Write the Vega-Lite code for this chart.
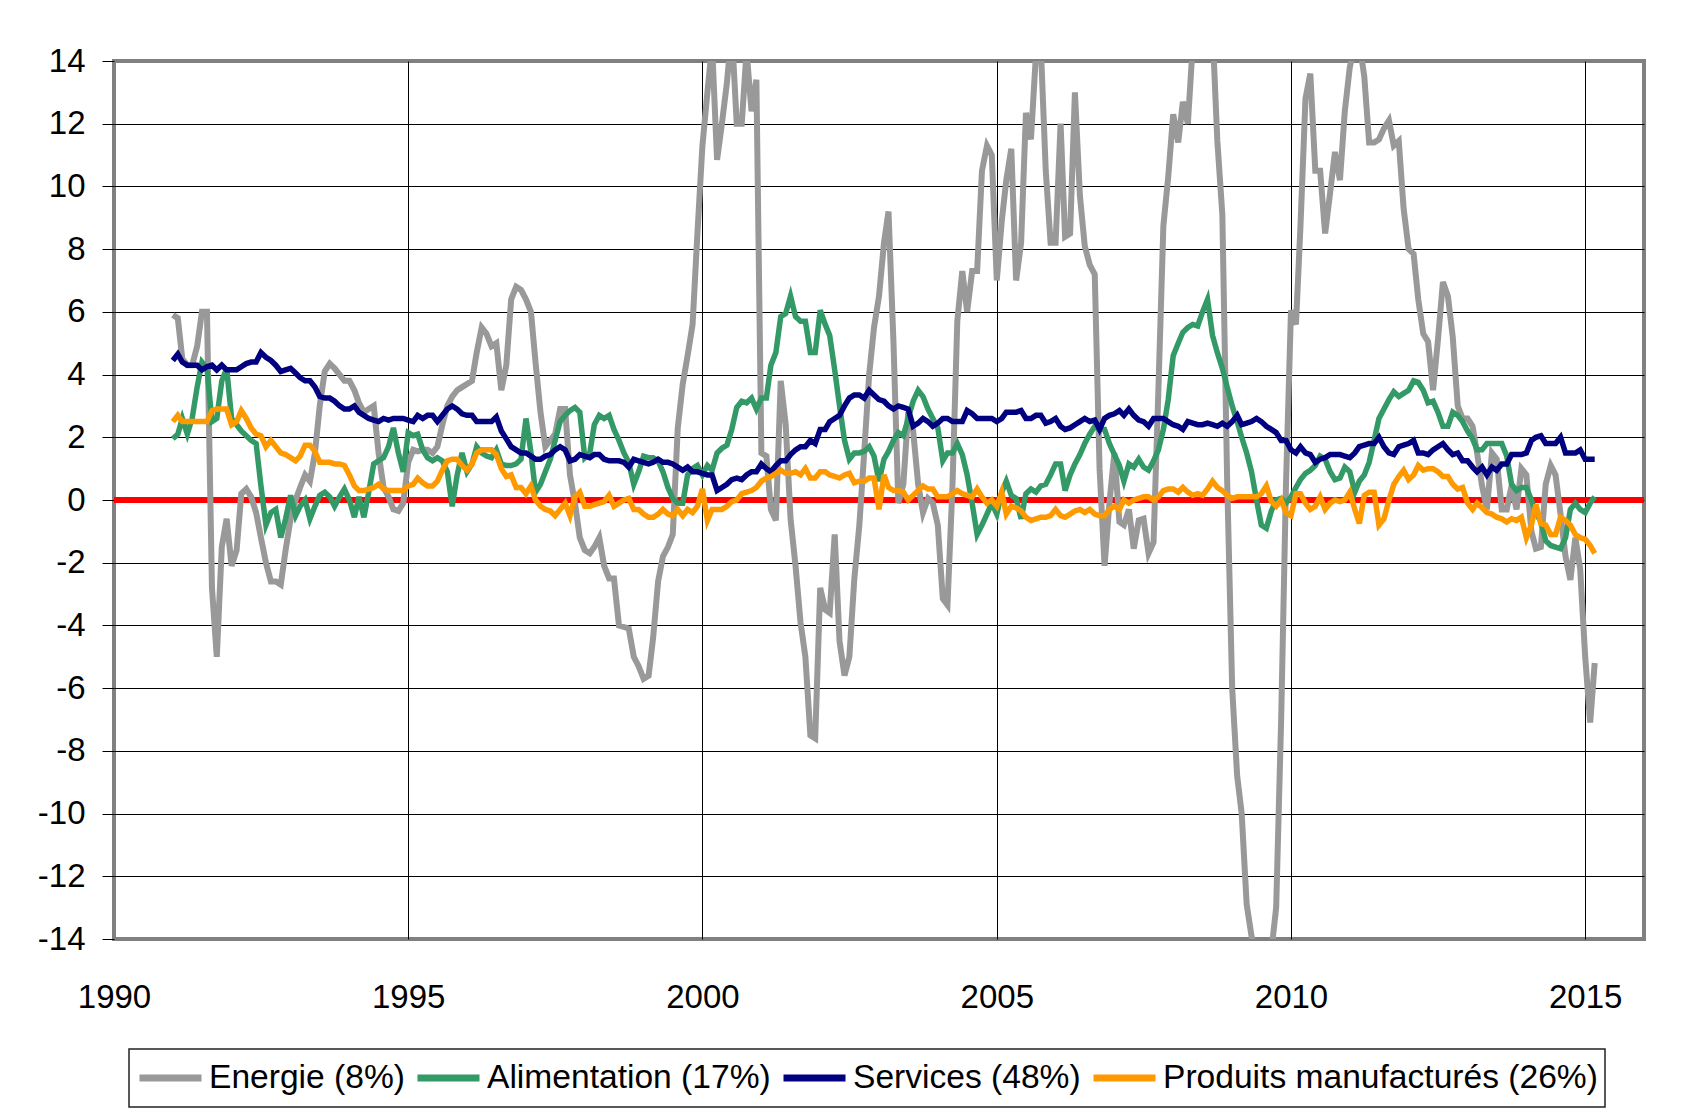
{
  "$schema": "https://vega.github.io/schema/vega-lite/v6.json",
  "width": 1530,
  "height": 878,
  "autosize": {"type": "none"},
  "padding": {"left": 114, "top": 61, "right": 53, "bottom": 175},
  "background": "white",
  "config": {
    "font": "Liberation Sans",
    "view": {"stroke": "#808080", "strokeWidth": 4},
    "axis": {"labelFont": "Liberation Sans", "labelColor": "#000", "labelFontSize": 33, "domain": false, "gridColor": "#000", "gridOpacity": 1, "gridWidth": 1},
    "legend": {
      "orient": "none", "legendX": 15, "legendY": 988, "direction": "horizontal",
      "strokeColor": "#222", "strokeWidth": 1.5, "fillColor": "white", "padding": 7, "clipHeight": 44,
      "symbolType": "stroke", "symbolSize": 3844, "symbolStrokeWidth": 7,
      "labelFont": "Liberation Sans", "labelFontSize": 33.6, "labelColor": "#000", "labelOffset": 4, "labelLimit": 0,
      "columnPadding": 9, "title": null
    }
  },
  "data": {"values": [
    {"d":"1991-01","e":5.9,"a":1.95,"s":4.45,"p":2.5},
    {"d":"1991-02","e":5.8,"a":2.1,"s":4.65,"p":2.7},
    {"d":"1991-03","e":4.5,"a":2.6,"s":4.4,"p":2.5},
    {"d":"1991-04","e":4.3,"a":2.1,"s":4.3,"p":2.5},
    {"d":"1991-05","e":4.3,"a":2.6,"s":4.3,"p":2.5},
    {"d":"1991-06","e":4.9,"a":3.6,"s":4.3,"p":2.5},
    {"d":"1991-07","e":6.0,"a":4.4,"s":4.15,"p":2.5},
    {"d":"1991-08","e":6.0,"a":4.2,"s":4.25,"p":2.5},
    {"d":"1991-09","e":-2.8,"a":2.5,"s":4.3,"p":2.85},
    {"d":"1991-10","e":-5.0,"a":2.6,"s":4.15,"p":2.9},
    {"d":"1991-11","e":-1.5,"a":3.8,"s":4.3,"p":2.9},
    {"d":"1991-12","e":-0.6,"a":4.2,"s":4.15,"p":2.9},
    {"d":"1992-01","e":-2.1,"a":2.6,"s":4.15,"p":2.4},
    {"d":"1992-02","e":-1.6,"a":2.4,"s":4.15,"p":2.5},
    {"d":"1992-03","e":0.2,"a":2.2,"s":4.25,"p":2.85},
    {"d":"1992-04","e":0.35,"a":2.05,"s":4.35,"p":2.6},
    {"d":"1992-05","e":0.1,"a":1.9,"s":4.4,"p":2.3},
    {"d":"1992-06","e":-0.4,"a":1.8,"s":4.4,"p":2.1},
    {"d":"1992-07","e":-1.2,"a":0.45,"s":4.7,"p":2.05},
    {"d":"1992-08","e":-2.0,"a":-0.8,"s":4.55,"p":1.7},
    {"d":"1992-09","e":-2.6,"a":-0.4,"s":4.45,"p":1.9},
    {"d":"1992-10","e":-2.6,"a":-0.3,"s":4.3,"p":1.7},
    {"d":"1992-11","e":-2.7,"a":-1.2,"s":4.1,"p":1.5},
    {"d":"1992-12","e":-1.6,"a":-0.6,"s":4.15,"p":1.45},
    {"d":"1993-01","e":-0.6,"a":0.15,"s":4.2,"p":1.35},
    {"d":"1993-02","e":0.0,"a":-0.5,"s":4.05,"p":1.25},
    {"d":"1993-03","e":0.4,"a":-0.2,"s":3.9,"p":1.4},
    {"d":"1993-04","e":0.8,"a":0.0,"s":3.8,"p":1.75},
    {"d":"1993-05","e":0.6,"a":-0.6,"s":3.8,"p":1.75},
    {"d":"1993-06","e":1.5,"a":-0.2,"s":3.6,"p":1.55},
    {"d":"1993-07","e":3.0,"a":0.15,"s":3.3,"p":1.2},
    {"d":"1993-08","e":4.1,"a":0.25,"s":3.25,"p":1.2},
    {"d":"1993-09","e":4.35,"a":0.1,"s":3.25,"p":1.2},
    {"d":"1993-10","e":4.2,"a":-0.2,"s":3.15,"p":1.15},
    {"d":"1993-11","e":4.0,"a":0.1,"s":3.0,"p":1.15},
    {"d":"1993-12","e":3.8,"a":0.35,"s":2.9,"p":1.1},
    {"d":"1994-01","e":3.8,"a":0.0,"s":2.9,"p":0.8},
    {"d":"1994-02","e":3.5,"a":-0.55,"s":3.0,"p":0.45},
    {"d":"1994-03","e":3.1,"a":0.1,"s":2.8,"p":0.3},
    {"d":"1994-04","e":2.8,"a":-0.55,"s":2.7,"p":0.3},
    {"d":"1994-05","e":2.9,"a":0.25,"s":2.6,"p":0.35},
    {"d":"1994-06","e":3.0,"a":1.15,"s":2.55,"p":0.4},
    {"d":"1994-07","e":1.5,"a":1.25,"s":2.5,"p":0.5},
    {"d":"1994-08","e":0.4,"a":1.35,"s":2.6,"p":0.35},
    {"d":"1994-09","e":0.1,"a":1.7,"s":2.55,"p":0.3},
    {"d":"1994-10","e":-0.3,"a":2.3,"s":2.6,"p":0.3},
    {"d":"1994-11","e":-0.35,"a":1.5,"s":2.6,"p":0.3},
    {"d":"1994-12","e":-0.1,"a":0.9,"s":2.6,"p":0.3},
    {"d":"1995-01","e":1.2,"a":2.15,"s":2.55,"p":0.45},
    {"d":"1995-02","e":1.6,"a":2.05,"s":2.5,"p":0.5},
    {"d":"1995-03","e":1.55,"a":2.1,"s":2.7,"p":0.7},
    {"d":"1995-04","e":1.6,"a":1.6,"s":2.6,"p":0.55},
    {"d":"1995-05","e":1.6,"a":1.35,"s":2.7,"p":0.45},
    {"d":"1995-06","e":1.5,"a":1.25,"s":2.7,"p":0.45},
    {"d":"1995-07","e":1.7,"a":1.35,"s":2.5,"p":0.6},
    {"d":"1995-08","e":2.4,"a":1.25,"s":2.7,"p":0.95},
    {"d":"1995-09","e":3.0,"a":0.9,"s":2.9,"p":1.25},
    {"d":"1995-10","e":3.3,"a":-0.2,"s":3.0,"p":1.3},
    {"d":"1995-11","e":3.5,"a":0.8,"s":2.9,"p":1.3},
    {"d":"1995-12","e":3.6,"a":1.5,"s":2.75,"p":1.1},
    {"d":"1996-01","e":3.7,"a":0.9,"s":2.7,"p":0.95},
    {"d":"1996-02","e":3.8,"a":1.15,"s":2.7,"p":1.15},
    {"d":"1996-03","e":4.7,"a":1.7,"s":2.5,"p":1.5},
    {"d":"1996-04","e":5.5,"a":1.5,"s":2.5,"p":1.6},
    {"d":"1996-05","e":5.3,"a":1.4,"s":2.5,"p":1.6},
    {"d":"1996-06","e":4.9,"a":1.35,"s":2.5,"p":1.6},
    {"d":"1996-07","e":5.0,"a":1.6,"s":2.65,"p":1.45},
    {"d":"1996-08","e":3.5,"a":1.15,"s":2.2,"p":1.0},
    {"d":"1996-09","e":4.3,"a":1.1,"s":1.95,"p":0.75},
    {"d":"1996-10","e":6.4,"a":1.1,"s":1.7,"p":0.8},
    {"d":"1996-11","e":6.8,"a":1.15,"s":1.6,"p":0.4},
    {"d":"1996-12","e":6.7,"a":1.3,"s":1.5,"p":0.4},
    {"d":"1997-01","e":6.4,"a":2.6,"s":1.5,"p":0.2},
    {"d":"1997-02","e":6.0,"a":1.5,"s":1.4,"p":0.45},
    {"d":"1997-03","e":4.4,"a":0.25,"s":1.3,"p":0.0},
    {"d":"1997-04","e":2.8,"a":0.5,"s":1.3,"p":-0.2},
    {"d":"1997-05","e":1.7,"a":0.9,"s":1.4,"p":-0.3},
    {"d":"1997-06","e":1.9,"a":1.3,"s":1.45,"p":-0.35},
    {"d":"1997-07","e":2.1,"a":1.9,"s":1.6,"p":-0.5},
    {"d":"1997-08","e":2.9,"a":2.5,"s":1.7,"p":-0.3},
    {"d":"1997-09","e":2.9,"a":2.7,"s":1.6,"p":-0.1},
    {"d":"1997-10","e":0.8,"a":2.85,"s":1.25,"p":-0.5},
    {"d":"1997-11","e":-0.1,"a":2.95,"s":1.3,"p":0.1},
    {"d":"1997-12","e":-1.2,"a":2.8,"s":1.45,"p":0.25},
    {"d":"1998-01","e":-1.6,"a":1.35,"s":1.4,"p":-0.2},
    {"d":"1998-02","e":-1.7,"a":1.5,"s":1.35,"p":-0.2},
    {"d":"1998-03","e":-1.5,"a":2.4,"s":1.45,"p":-0.15},
    {"d":"1998-04","e":-1.2,"a":2.7,"s":1.45,"p":-0.1},
    {"d":"1998-05","e":-2.1,"a":2.6,"s":1.3,"p":-0.05},
    {"d":"1998-06","e":-2.5,"a":2.7,"s":1.25,"p":0.15},
    {"d":"1998-07","e":-2.5,"a":2.25,"s":1.25,"p":-0.2},
    {"d":"1998-08","e":-4.0,"a":1.9,"s":1.25,"p":-0.1},
    {"d":"1998-09","e":-4.05,"a":1.5,"s":1.2,"p":0.0},
    {"d":"1998-10","e":-4.1,"a":1.2,"s":1.05,"p":0.05},
    {"d":"1998-11","e":-5.0,"a":0.5,"s":1.3,"p":-0.3},
    {"d":"1998-12","e":-5.3,"a":0.9,"s":1.25,"p":-0.3},
    {"d":"1999-01","e":-5.7,"a":1.4,"s":1.2,"p":-0.45},
    {"d":"1999-02","e":-5.6,"a":1.35,"s":1.15,"p":-0.55},
    {"d":"1999-03","e":-4.4,"a":1.35,"s":1.2,"p":-0.55},
    {"d":"1999-04","e":-2.6,"a":1.25,"s":1.3,"p":-0.45},
    {"d":"1999-05","e":-1.8,"a":0.9,"s":1.2,"p":-0.3},
    {"d":"1999-06","e":-1.5,"a":0.4,"s":1.2,"p":-0.45},
    {"d":"1999-07","e":-1.1,"a":0.05,"s":1.15,"p":-0.5},
    {"d":"1999-08","e":2.3,"a":-0.1,"s":1.05,"p":-0.3},
    {"d":"1999-09","e":3.7,"a":-0.1,"s":0.95,"p":-0.5},
    {"d":"1999-10","e":4.6,"a":0.8,"s":1.05,"p":-0.3},
    {"d":"1999-11","e":5.6,"a":1.0,"s":0.9,"p":-0.4},
    {"d":"1999-12","e":8.5,"a":1.1,"s":0.9,"p":-0.2},
    {"d":"2000-01","e":11.3,"a":0.8,"s":0.85,"p":0.35},
    {"d":"2000-02","e":13.0,"a":1.1,"s":0.8,"p":-0.65},
    {"d":"2000-03","e":14.5,"a":0.95,"s":0.8,"p":-0.3},
    {"d":"2000-04","e":10.85,"a":1.5,"s":0.3,"p":-0.3},
    {"d":"2000-05","e":12.0,"a":1.65,"s":0.4,"p":-0.3},
    {"d":"2000-06","e":13.3,"a":1.75,"s":0.5,"p":-0.2},
    {"d":"2000-07","e":15.0,"a":2.25,"s":0.65,"p":-0.05},
    {"d":"2000-08","e":12.0,"a":2.95,"s":0.7,"p":0.0},
    {"d":"2000-09","e":12.0,"a":3.15,"s":0.65,"p":0.2},
    {"d":"2000-10","e":14.3,"a":3.1,"s":0.8,"p":0.25},
    {"d":"2000-11","e":12.4,"a":3.25,"s":0.9,"p":0.3},
    {"d":"2000-12","e":13.4,"a":2.9,"s":0.9,"p":0.4},
    {"d":"2001-01","e":1.5,"a":3.25,"s":1.15,"p":0.6},
    {"d":"2001-02","e":1.4,"a":3.25,"s":1.0,"p":0.7},
    {"d":"2001-03","e":-0.3,"a":4.3,"s":0.9,"p":0.75},
    {"d":"2001-04","e":-0.65,"a":4.7,"s":1.1,"p":0.85},
    {"d":"2001-05","e":3.8,"a":5.85,"s":1.25,"p":0.95},
    {"d":"2001-06","e":2.4,"a":5.95,"s":1.25,"p":0.85},
    {"d":"2001-07","e":-0.6,"a":6.5,"s":1.45,"p":0.85},
    {"d":"2001-08","e":-2.1,"a":5.85,"s":1.6,"p":0.9},
    {"d":"2001-09","e":-3.9,"a":5.7,"s":1.7,"p":0.8},
    {"d":"2001-10","e":-5.0,"a":5.7,"s":1.7,"p":1.0},
    {"d":"2001-11","e":-7.5,"a":4.7,"s":1.9,"p":0.7},
    {"d":"2001-12","e":-7.6,"a":4.7,"s":1.8,"p":0.7},
    {"d":"2002-01","e":-2.8,"a":6.05,"s":2.25,"p":0.9},
    {"d":"2002-02","e":-3.5,"a":5.6,"s":2.25,"p":0.9},
    {"d":"2002-03","e":-3.6,"a":5.25,"s":2.5,"p":0.8},
    {"d":"2002-04","e":-1.1,"a":4.15,"s":2.6,"p":0.75},
    {"d":"2002-05","e":-4.5,"a":3.0,"s":2.7,"p":0.7},
    {"d":"2002-06","e":-5.6,"a":1.9,"s":3.0,"p":0.8},
    {"d":"2002-07","e":-5.0,"a":1.3,"s":3.25,"p":0.85},
    {"d":"2002-08","e":-2.5,"a":1.5,"s":3.35,"p":0.55},
    {"d":"2002-09","e":-0.8,"a":1.5,"s":3.35,"p":0.6},
    {"d":"2002-10","e":1.5,"a":1.55,"s":3.25,"p":0.6},
    {"d":"2002-11","e":4.0,"a":1.7,"s":3.5,"p":0.7},
    {"d":"2002-12","e":5.5,"a":1.4,"s":3.35,"p":0.7},
    {"d":"2003-01","e":6.5,"a":0.6,"s":3.2,"p":-0.3},
    {"d":"2003-02","e":8.2,"a":1.3,"s":3.15,"p":0.8},
    {"d":"2003-03","e":9.2,"a":1.55,"s":3.0,"p":0.4},
    {"d":"2003-04","e":5.0,"a":1.9,"s":2.9,"p":0.3},
    {"d":"2003-05","e":-0.1,"a":2.15,"s":3.0,"p":0.3},
    {"d":"2003-06","e":0.5,"a":2.05,"s":2.95,"p":0.25},
    {"d":"2003-07","e":2.8,"a":2.6,"s":2.9,"p":0.0},
    {"d":"2003-08","e":2.2,"a":3.15,"s":2.35,"p":0.15},
    {"d":"2003-09","e":0.5,"a":3.5,"s":2.45,"p":0.3},
    {"d":"2003-10","e":-0.4,"a":3.3,"s":2.6,"p":0.45},
    {"d":"2003-11","e":0.05,"a":2.9,"s":2.5,"p":0.35},
    {"d":"2003-12","e":-0.1,"a":2.6,"s":2.35,"p":0.35},
    {"d":"2004-01","e":-0.8,"a":2.3,"s":2.45,"p":0.1},
    {"d":"2004-02","e":-3.15,"a":1.25,"s":2.6,"p":0.1},
    {"d":"2004-03","e":-3.35,"a":1.5,"s":2.6,"p":0.1},
    {"d":"2004-04","e":0.45,"a":1.5,"s":2.5,"p":0.2},
    {"d":"2004-05","e":5.7,"a":1.8,"s":2.5,"p":0.3},
    {"d":"2004-06","e":7.3,"a":1.45,"s":2.5,"p":0.2},
    {"d":"2004-07","e":6.0,"a":0.8,"s":2.85,"p":0.15},
    {"d":"2004-08","e":7.3,"a":-0.1,"s":2.75,"p":0.1},
    {"d":"2004-09","e":7.3,"a":-1.1,"s":2.6,"p":0.35},
    {"d":"2004-10","e":10.5,"a":-0.8,"s":2.6,"p":0.1},
    {"d":"2004-11","e":11.3,"a":-0.45,"s":2.6,"p":-0.1},
    {"d":"2004-12","e":11.0,"a":-0.1,"s":2.6,"p":0.0},
    {"d":"2005-01","e":7.0,"a":-0.45,"s":2.5,"p":-0.2},
    {"d":"2005-02","e":8.9,"a":0.25,"s":2.6,"p":0.25},
    {"d":"2005-03","e":10.2,"a":0.6,"s":2.8,"p":-0.45},
    {"d":"2005-04","e":11.2,"a":0.15,"s":2.8,"p":-0.2},
    {"d":"2005-05","e":7.0,"a":0.05,"s":2.8,"p":-0.25},
    {"d":"2005-06","e":8.2,"a":-0.6,"s":2.85,"p":-0.35},
    {"d":"2005-07","e":12.35,"a":0.2,"s":2.6,"p":-0.55},
    {"d":"2005-08","e":11.5,"a":0.35,"s":2.6,"p":-0.65},
    {"d":"2005-09","e":14.2,"a":0.25,"s":2.7,"p":-0.6},
    {"d":"2005-10","e":14.5,"a":0.45,"s":2.7,"p":-0.55},
    {"d":"2005-11","e":10.5,"a":0.5,"s":2.45,"p":-0.55},
    {"d":"2005-12","e":8.2,"a":0.8,"s":2.5,"p":-0.5},
    {"d":"2006-01","e":8.2,"a":1.15,"s":2.6,"p":-0.3},
    {"d":"2006-02","e":12.0,"a":1.15,"s":2.35,"p":-0.5},
    {"d":"2006-03","e":8.4,"a":0.3,"s":2.25,"p":-0.55},
    {"d":"2006-04","e":8.5,"a":0.8,"s":2.3,"p":-0.45},
    {"d":"2006-05","e":13.0,"a":1.15,"s":2.4,"p":-0.35},
    {"d":"2006-06","e":9.7,"a":1.45,"s":2.5,"p":-0.3},
    {"d":"2006-07","e":8.1,"a":1.8,"s":2.6,"p":-0.4},
    {"d":"2006-08","e":7.5,"a":2.1,"s":2.5,"p":-0.3},
    {"d":"2006-09","e":7.2,"a":2.35,"s":2.55,"p":-0.45},
    {"d":"2006-10","e":1.0,"a":2.25,"s":2.25,"p":-0.5},
    {"d":"2006-11","e":-2.1,"a":2.25,"s":2.6,"p":-0.5},
    {"d":"2006-12","e":-0.1,"a":1.8,"s":2.7,"p":-0.3},
    {"d":"2007-01","e":1.5,"a":1.45,"s":2.75,"p":-0.2},
    {"d":"2007-02","e":-0.7,"a":1.1,"s":2.85,"p":-0.3},
    {"d":"2007-03","e":-0.8,"a":0.6,"s":2.7,"p":0.0},
    {"d":"2007-04","e":-0.3,"a":1.15,"s":2.9,"p":-0.1},
    {"d":"2007-05","e":-1.55,"a":1.05,"s":2.7,"p":0.0},
    {"d":"2007-06","e":-0.65,"a":1.3,"s":2.55,"p":0.05},
    {"d":"2007-07","e":-0.6,"a":1.05,"s":2.5,"p":0.1},
    {"d":"2007-08","e":-1.7,"a":0.95,"s":2.35,"p":0.1},
    {"d":"2007-09","e":-1.35,"a":1.25,"s":2.6,"p":0.0},
    {"d":"2007-10","e":3.5,"a":1.6,"s":2.6,"p":0.1},
    {"d":"2007-11","e":8.75,"a":2.25,"s":2.6,"p":0.3},
    {"d":"2007-12","e":10.3,"a":3.2,"s":2.5,"p":0.35},
    {"d":"2008-01","e":12.3,"a":4.6,"s":2.4,"p":0.35},
    {"d":"2008-02","e":11.4,"a":5.0,"s":2.35,"p":0.25},
    {"d":"2008-03","e":12.7,"a":5.35,"s":2.25,"p":0.4},
    {"d":"2008-04","e":12.0,"a":5.5,"s":2.5,"p":0.25},
    {"d":"2008-05","e":14.5,"a":5.6,"s":2.45,"p":0.15},
    {"d":"2008-06","e":16.0,"a":5.55,"s":2.4,"p":0.2},
    {"d":"2008-07","e":17.5,"a":6.0,"s":2.4,"p":0.15},
    {"d":"2008-08","e":17.0,"a":6.4,"s":2.45,"p":0.35},
    {"d":"2008-09","e":15.0,"a":5.25,"s":2.4,"p":0.6},
    {"d":"2008-10","e":11.45,"a":4.7,"s":2.35,"p":0.4},
    {"d":"2008-11","e":9.1,"a":4.2,"s":2.45,"p":0.3},
    {"d":"2008-12","e":0.6,"a":3.6,"s":2.35,"p":0.15},
    {"d":"2009-01","e":-6.0,"a":3.0,"s":2.5,"p":0.05},
    {"d":"2009-02","e":-8.8,"a":2.5,"s":2.7,"p":0.1},
    {"d":"2009-03","e":-10.0,"a":2.0,"s":2.4,"p":0.1},
    {"d":"2009-04","e":-12.9,"a":1.5,"s":2.45,"p":0.1},
    {"d":"2009-05","e":-13.9,"a":0.9,"s":2.5,"p":0.1},
    {"d":"2009-06","e":-14.6,"a":0.0,"s":2.6,"p":0.1},
    {"d":"2009-07","e":-15.2,"a":-0.8,"s":2.5,"p":0.2},
    {"d":"2009-08","e":-15.0,"a":-0.9,"s":2.35,"p":0.45},
    {"d":"2009-09","e":-14.4,"a":-0.35,"s":2.25,"p":-0.05},
    {"d":"2009-10","e":-13.0,"a":0.0,"s":2.15,"p":-0.2},
    {"d":"2009-11","e":-7.0,"a":0.05,"s":1.9,"p":0.0},
    {"d":"2009-12","e":0.5,"a":-0.1,"s":1.9,"p":-0.4},
    {"d":"2010-01","e":6.05,"a":0.1,"s":1.6,"p":-0.5},
    {"d":"2010-02","e":5.6,"a":0.4,"s":1.5,"p":0.2},
    {"d":"2010-03","e":8.75,"a":0.65,"s":1.7,"p":0.2},
    {"d":"2010-04","e":12.8,"a":0.85,"s":1.5,"p":-0.1},
    {"d":"2010-05","e":13.6,"a":0.95,"s":1.45,"p":-0.3},
    {"d":"2010-06","e":10.5,"a":1.1,"s":1.2,"p":-0.2},
    {"d":"2010-07","e":10.5,"a":1.4,"s":1.3,"p":0.1},
    {"d":"2010-08","e":8.5,"a":1.3,"s":1.35,"p":-0.3},
    {"d":"2010-09","e":9.8,"a":0.9,"s":1.45,"p":-0.1},
    {"d":"2010-10","e":11.1,"a":0.65,"s":1.45,"p":0.0},
    {"d":"2010-11","e":10.2,"a":0.7,"s":1.45,"p":-0.05},
    {"d":"2010-12","e":12.4,"a":1.05,"s":1.4,"p":0.0},
    {"d":"2011-01","e":13.8,"a":0.9,"s":1.35,"p":0.25},
    {"d":"2011-02","e":14.5,"a":0.25,"s":1.5,"p":-0.3},
    {"d":"2011-03","e":14.6,"a":0.6,"s":1.7,"p":-0.75},
    {"d":"2011-04","e":13.5,"a":0.8,"s":1.75,"p":0.15},
    {"d":"2011-05","e":11.4,"a":1.2,"s":1.8,"p":0.25},
    {"d":"2011-06","e":11.4,"a":1.9,"s":1.8,"p":0.25},
    {"d":"2011-07","e":11.5,"a":2.6,"s":2.0,"p":-0.8},
    {"d":"2011-08","e":11.85,"a":2.9,"s":1.7,"p":-0.6},
    {"d":"2011-09","e":12.1,"a":3.2,"s":1.5,"p":0.0},
    {"d":"2011-10","e":11.3,"a":3.45,"s":1.45,"p":0.5},
    {"d":"2011-11","e":11.45,"a":3.3,"s":1.7,"p":0.75},
    {"d":"2011-12","e":9.3,"a":3.4,"s":1.75,"p":0.95},
    {"d":"2012-01","e":8.0,"a":3.5,"s":1.8,"p":0.65},
    {"d":"2012-02","e":7.85,"a":3.8,"s":1.9,"p":0.8},
    {"d":"2012-03","e":6.4,"a":3.75,"s":1.5,"p":1.1},
    {"d":"2012-04","e":5.3,"a":3.5,"s":1.5,"p":0.95},
    {"d":"2012-05","e":5.05,"a":3.1,"s":1.45,"p":1.0},
    {"d":"2012-06","e":3.5,"a":3.15,"s":1.6,"p":1.0},
    {"d":"2012-07","e":5.1,"a":2.8,"s":1.7,"p":0.9},
    {"d":"2012-08","e":6.95,"a":2.35,"s":1.8,"p":0.75},
    {"d":"2012-09","e":6.5,"a":2.35,"s":1.6,"p":0.75},
    {"d":"2012-10","e":5.2,"a":2.8,"s":1.45,"p":0.5},
    {"d":"2012-11","e":3.0,"a":2.7,"s":1.5,"p":0.35},
    {"d":"2012-12","e":2.6,"a":2.5,"s":1.25,"p":0.4},
    {"d":"2013-01","e":2.6,"a":2.2,"s":1.25,"p":-0.1},
    {"d":"2013-02","e":2.35,"a":1.95,"s":1.05,"p":-0.3},
    {"d":"2013-03","e":1.5,"a":1.6,"s":0.9,"p":-0.1},
    {"d":"2013-04","e":0.45,"a":1.6,"s":1.05,"p":-0.25},
    {"d":"2013-05","e":-0.3,"a":1.8,"s":0.8,"p":-0.4},
    {"d":"2013-06","e":1.5,"a":1.8,"s":1.05,"p":-0.45},
    {"d":"2013-07","e":1.3,"a":1.8,"s":0.95,"p":-0.55},
    {"d":"2013-08","e":-0.3,"a":1.8,"s":1.15,"p":-0.6},
    {"d":"2013-09","e":-0.3,"a":1.4,"s":1.15,"p":-0.7},
    {"d":"2013-10","e":0.45,"a":0.5,"s":1.45,"p":-0.6},
    {"d":"2013-11","e":-0.3,"a":0.3,"s":1.45,"p":-0.65},
    {"d":"2013-12","e":1.0,"a":0.4,"s":1.45,"p":-0.55},
    {"d":"2014-01","e":0.8,"a":0.4,"s":1.5,"p":-1.2},
    {"d":"2014-02","e":-1.0,"a":0.0,"s":1.9,"p":-0.8},
    {"d":"2014-03","e":-1.55,"a":-0.4,"s":2.0,"p":-0.15},
    {"d":"2014-04","e":-1.5,"a":-0.7,"s":2.05,"p":-0.75},
    {"d":"2014-05","e":0.5,"a":-1.3,"s":1.8,"p":-0.8},
    {"d":"2014-06","e":1.1,"a":-1.45,"s":1.8,"p":-1.1},
    {"d":"2014-07","e":0.8,"a":-1.5,"s":1.8,"p":-1.1},
    {"d":"2014-08","e":-0.45,"a":-1.55,"s":2.0,"p":-0.55},
    {"d":"2014-09","e":-1.8,"a":-1.2,"s":1.5,"p":-0.65},
    {"d":"2014-10","e":-2.55,"a":-0.3,"s":1.5,"p":-0.8},
    {"d":"2014-11","e":-1.2,"a":-0.1,"s":1.5,"p":-1.1},
    {"d":"2014-12","e":-2.2,"a":-0.3,"s":1.6,"p":-1.2},
    {"d":"2015-01","e":-5.0,"a":-0.4,"s":1.3,"p":-1.25},
    {"d":"2015-02","e":-7.1,"a":-0.1,"s":1.3,"p":-1.45},
    {"d":"2015-03","e":-5.2,"a":0.1,"s":1.3,"p":-1.7}
  ]},
  "layer": [
    {
      "mark": {"type": "rule", "color": "#FF0000", "strokeWidth": 5},
      "encoding": {"y": {"datum": 0, "type": "quantitative"}}
    },
    {
      "encoding": {
        "x": {
          "field": "d", "type": "temporal", "title": null,
          "scale": {"type": "utc", "domain": [{"year": 1990, "month": 1, "date": 1, "utc": true}, {"year": 2016, "month": 1, "date": 1, "utc": true}]},
          "axis": {
            "tickCount": {"interval": "year", "step": 5},
            "labelExpr": "utcFormat(datum.value, '%Y')",
            "grid": true, "ticks": false, "tickSize": 0, "labelPadding": 42,
            "labelFlush": false, "labelOverlap": false,
            "gridOpacity": {"condition": {"test": "utcyear(datum.value) == 1990", "value": 0}, "value": 1}
          }
        }
      },
      "layer": [
        {
          "mark": {"type": "line", "strokeWidth": 6, "clip": true},
          "encoding": {
            "y": {
              "field": "e", "type": "quantitative", "title": null,
              "scale": {"domain": [-14, 14], "nice": false},
              "axis": {
                "values": [-14, -12, -10, -8, -6, -4, -2, 0, 2, 4, 6, 8, 10, 12, 14],
                "labelExpr": "'' + datum.value",
                "grid": true, "ticks": true, "tickSize": 12, "tickColor": "#000", "tickWidth": 1,
                "labelPadding": 17, "labelFlush": false, "labelOverlap": false,
                "gridOpacity": {"condition": {"test": "abs(datum.value) == 14", "value": 0}, "value": 1}
              }
            },
            "color": {
              "datum": "Energie (8%)",
              "scale": {
                "domain": ["Energie (8%)", "Alimentation (17%)", "Services (48%)", "Produits manufacturés (26%)"],
                "range": ["#999999", "#339966", "#000080", "#FF9900"]
              }
            }
          }
        },
        {
          "mark": {"type": "line", "strokeWidth": 5.5, "clip": true},
          "encoding": {
            "y": {"field": "a", "type": "quantitative", "title": null},
            "color": {"datum": "Alimentation (17%)"}
          }
        },
        {
          "mark": {"type": "line", "strokeWidth": 5.5, "clip": true},
          "encoding": {
            "y": {"field": "s", "type": "quantitative", "title": null},
            "color": {"datum": "Services (48%)"}
          }
        },
        {
          "mark": {"type": "line", "strokeWidth": 5.5, "clip": true},
          "encoding": {
            "y": {"field": "p", "type": "quantitative", "title": null},
            "color": {"datum": "Produits manufacturés (26%)"}
          }
        }
      ]
    }
  ]
}
